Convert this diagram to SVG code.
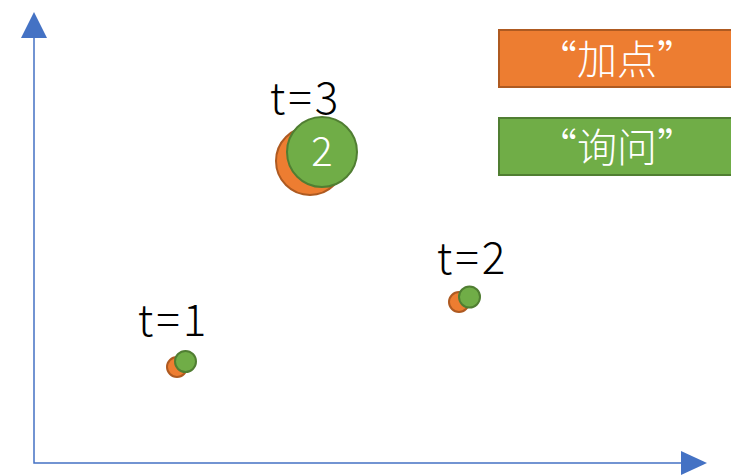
<svg xmlns="http://www.w3.org/2000/svg" width="731" height="475" viewBox="0 0 731 475">
<style>
.o{fill:#ED7D31;stroke:#AE5A21;stroke-width:2}
.g{fill:#70AD47;stroke:#507E32;stroke-width:2}
.lbl{font-family:"Noto Sans CJK SC","Noto Sans",sans-serif;font-weight:300;font-size:44px;letter-spacing:3px;fill:#000;text-anchor:middle}
.wt{font-family:"Noto Sans CJK SC","Noto Sans",sans-serif;font-weight:300;font-size:40px;fill:#fff;text-anchor:middle}
.ax{stroke:#4472C4;stroke-width:1.5;fill:none}
</style>
<rect width="731" height="475" fill="#fff"/>
<g id="axes">
<path class="ax" d="M34,38 V463 H682"/>
<polygon points="21,38 47,38 34,12" fill="#4472C4"/>
<polygon points="681,451 681,475 707,463" fill="#4472C4"/>
</g>
<g id="legend-add">
<rect x="499" y="30" width="240" height="57" class="o"/>
<text x="617" y="74" class="wt">“加点”</text>
</g>
<g id="legend-query">
<rect x="499" y="118" width="240" height="57" class="g"/>
<text x="617" y="162" class="wt">“询问”</text>
</g>
<g id="t3">
<text x="305.5" y="114" class="lbl">t=3</text>
<circle cx="310" cy="161" r="34" class="o"/>
<circle cx="322" cy="152" r="35" class="g"/>
<text x="322" y="166" class="wt">2</text>
</g>
<g id="t2">
<text x="472.5" y="274" class="lbl">t=2</text>
<circle cx="459" cy="302" r="10" class="o"/>
<circle cx="469.5" cy="297" r="10.5" class="g"/>
</g>
<g id="t1">
<text x="173.5" y="336" class="lbl">t=1</text>
<circle cx="177" cy="367" r="10" class="o"/>
<circle cx="185.5" cy="361.5" r="10.5" class="g"/>
</g>
</svg>
